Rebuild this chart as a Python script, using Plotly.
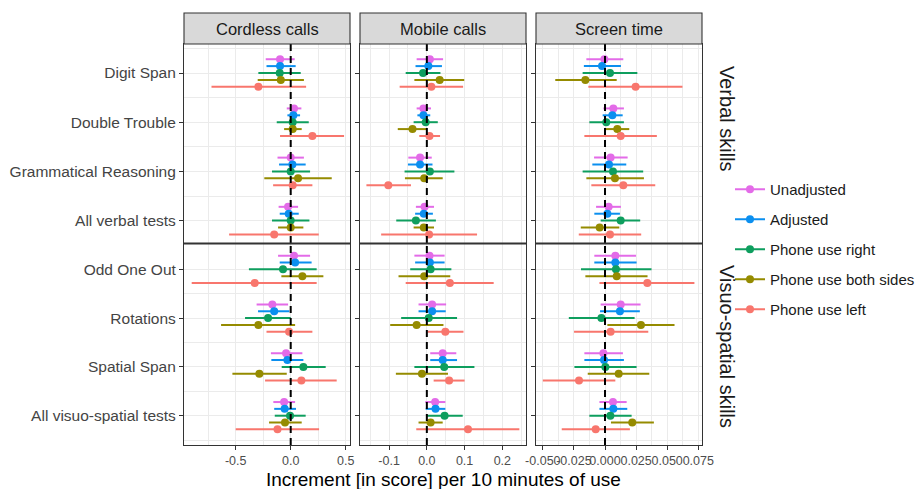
import plotly.graph_objects as go

# ---------------- data ----------------
exposures = ["Cordless calls", "Mobile calls", "Screen time"]
skill_domains = ["Verbal skills", "Visuo-spatial skills"]
verbal_tests = ["Digit Span", "Double Trouble", "Grammatical Reasoning", "All verbal tests"]
visuo_tests = ["Odd One Out", "Rotations", "Spatial Span", "All visuo-spatial tests"]
series_names = ["Unadjusted", "Adjusted", "Phone use right", "Phone use both sides", "Phone use left"]
series_colors = ["#E36BE8", "#0B8FEF", "#0E9E5E", "#958B00", "#F8766D"]

# rows = series (order above); columns = DS, DT, GR, AllVerbal, OOO, Rot, SS, AllVisuo
cordless_est = [
    [-0.097, 0.030, 0.000, -0.024, 0.030, -0.167, -0.042, -0.060],
    [-0.097, 0.024, 0.015, -0.018, 0.040, -0.150, -0.030, -0.055],
    [-0.100, 0.018, 0.000, 0.000, -0.070, -0.206, 0.115, -0.006],
    [-0.090, 0.018, 0.067, 0.000, 0.106, -0.294, -0.285, -0.052],
    [-0.294, 0.197, 0.018, -0.150, -0.327, -0.015, 0.097, -0.120],
]
cordless_lo = [
    [-0.227, -0.036, -0.120, -0.110, -0.115, -0.310, -0.180, -0.158],
    [-0.220, -0.030, -0.106, -0.100, -0.100, -0.297, -0.176, -0.150],
    [-0.294, -0.127, -0.170, -0.170, -0.380, -0.415, -0.082, -0.145],
    [-0.300, -0.060, -0.240, -0.115, -0.085, -0.633, -0.530, -0.197],
    [-0.720, -0.097, -0.160, -0.560, -0.900, -0.220, -0.233, -0.500],
]
cordless_hi = [
    [0.036, 0.097, 0.120, 0.067, 0.176, -0.024, 0.106, 0.040],
    [0.045, 0.085, 0.136, 0.073, 0.190, -0.012, 0.115, 0.048],
    [0.091, 0.164, 0.176, 0.170, 0.236, 0.000, 0.318, 0.136],
    [0.120, 0.100, 0.373, 0.115, 0.297, 0.040, -0.036, 0.100],
    [0.140, 0.485, 0.197, 0.255, 0.236, 0.197, 0.418, 0.258],
]

mobile_est = [
    [0.008, -0.009, -0.018, -0.006, 0.007, 0.014, 0.042, 0.022],
    [0.004, -0.009, -0.018, -0.008, 0.008, 0.014, 0.042, 0.023],
    [-0.010, -0.003, 0.008, -0.029, 0.010, 0.005, 0.046, 0.047],
    [0.034, -0.038, -0.007, -0.008, -0.007, -0.027, -0.013, 0.010],
    [0.012, 0.007, -0.102, 0.006, 0.061, 0.049, 0.059, 0.109],
]
mobile_lo = [
    [-0.027, -0.027, -0.049, -0.029, -0.033, -0.022, 0.009, -0.004],
    [-0.030, -0.025, -0.050, -0.031, -0.031, -0.022, 0.009, -0.003],
    [-0.056, -0.035, -0.059, -0.081, -0.044, -0.068, -0.033, 0.000],
    [-0.033, -0.077, -0.058, -0.035, -0.075, -0.097, -0.082, -0.022],
    [-0.072, -0.020, -0.160, -0.121, -0.056, 0.002, 0.018, -0.028],
]
mobile_hi = [
    [0.043, 0.011, 0.013, 0.019, 0.047, 0.051, 0.078, 0.049],
    [0.040, 0.009, 0.015, 0.016, 0.047, 0.050, 0.080, 0.049],
    [0.036, 0.029, 0.073, 0.024, 0.065, 0.080, 0.126, 0.095],
    [0.099, 0.000, 0.042, 0.019, 0.062, 0.044, 0.056, 0.042],
    [0.096, 0.035, -0.042, 0.133, 0.177, 0.097, 0.100, 0.245],
]

screen_est = [
    [-0.0005, 0.0067, 0.0045, 0.0029, 0.0083, 0.0126, -0.0013, 0.0064],
    [-0.0024, 0.0059, 0.0032, 0.0019, 0.0083, 0.0120, -0.0008, 0.0067],
    [0.0040, 0.0010, 0.0064, 0.0126, 0.0088, -0.0029, 0.0003, 0.0043],
    [-0.0158, 0.0099, 0.0080, -0.0043, 0.0094, 0.0289, 0.0110, 0.0219],
    [0.0246, 0.0126, 0.0147, 0.0040, 0.0340, 0.0045, -0.0209, -0.0075],
]
screen_lo = [
    [-0.0150, -0.0013, -0.0088, -0.0072, -0.0086, -0.0035, -0.0166, -0.0045],
    [-0.0170, -0.0019, -0.0102, -0.0086, -0.0086, -0.0040, -0.0166, -0.0045],
    [-0.0180, -0.0126, -0.0180, -0.0035, -0.0193, -0.0291, -0.0246, -0.0126],
    [-0.0400, 0.0008, -0.0150, -0.0195, -0.0158, 0.0019, -0.0139, 0.0048],
    [-0.0134, -0.0166, -0.0110, -0.0211, -0.0045, -0.0249, -0.0500, -0.0348],
]
screen_hi = [
    [0.0147, 0.0152, 0.0182, 0.0128, 0.0249, 0.0286, 0.0144, 0.0174],
    [0.0128, 0.0142, 0.0171, 0.0120, 0.0254, 0.0280, 0.0152, 0.0179],
    [0.0260, 0.0152, 0.0307, 0.0283, 0.0374, 0.0238, 0.0254, 0.0214],
    [0.0094, 0.0195, 0.0313, 0.0115, 0.0342, 0.0559, 0.0356, 0.0393],
    [0.0623, 0.0417, 0.0404, 0.0291, 0.0719, 0.0348, 0.0083, 0.0200],
]

cordless_ticks = [-0.5, 0.0, 0.5]
cordless_ticklabels = ["-0.5", "0.0", "0.5"]
mobile_ticks = [-0.1, 0.0, 0.1, 0.2]
mobile_ticklabels = ["-0.1", "0.0", "0.1", "0.2"]
screen_ticks = [-0.050, -0.025, 0.000, 0.025, 0.050, 0.075]
screen_ticklabels = ["-0.050", "-0.025", "0.000", "0.025", "0.050", "0.075"]

x_title = "Increment [in score] per 10 minutes of use"

# ---------------- layout constants ----------------
W, H = 920, 489
FONT = "Liberation Sans, Arial, Helvetica, sans-serif"
col_px = [(184, 350), (360, 526), (536, 702)]
row_px = [(44, 243), (244, 445)]
row_first_px = [73.0, 269.3]
row_step_px = [49.2, 48.8]
x_ranges = [[-0.970, 0.539], [-0.177, 0.2626], [-0.0555, 0.0780]]
dodge = 0.14

panel_data = [
    (cordless_est, cordless_lo, cordless_hi, cordless_ticks, cordless_ticklabels),
    (mobile_est, mobile_lo, mobile_hi, mobile_ticks, mobile_ticklabels),
    (screen_est, screen_lo, screen_hi, screen_ticks, screen_ticklabels),
]
row_tests = [verbal_tests, visuo_tests]


def minor_vals(ticks):
    step = ticks[1] - ticks[0]
    return ([ticks[0] - step / 2] + [(a + b) / 2 for a, b in zip(ticks[:-1], ticks[1:])]
            + [ticks[-1] + step / 2])


fig = go.Figure()
layout = dict(
    width=W, height=H, autosize=False,
    margin=dict(l=0, r=0, t=0, b=0, pad=0),
    paper_bgcolor="white", plot_bgcolor="white",
    font=dict(family=FONT, color="#1A1A1A"),
    showlegend=True,
    hovermode=False,
)
shapes = []
annotations = []

for c in range(3):
    est, lo, hi, ticks, ticklabels = panel_data[c]
    for r in range(2):
        p = r * 3 + c
        xa = "x" if p == 0 else f"x{p + 1}"
        ya = "y" if p == 0 else f"y{p + 1}"
        for k, name in enumerate(series_names):
            e = est[k][r * 4:(r + 1) * 4]
            l = lo[k][r * 4:(r + 1) * 4]
            h = hi[k][r * 4:(r + 1) * 4]
            yy = [i + (k - 2) * dodge for i in range(4)]
            fig.add_trace(go.Scatter(
                x=e, y=yy, mode="markers",
                marker=dict(size=8, color=series_colors[k], line=dict(width=0)),
                error_x=dict(type="data", symmetric=False,
                             array=[b - a for a, b in zip(e, h)],
                             arrayminus=[a - b for a, b in zip(e, l)],
                             thickness=2, width=0, color=series_colors[k]),
                xaxis=xa, yaxis=ya, showlegend=False, hoverinfo="skip",
                legendgroup=name, name=name,
            ))
        x0, x1 = col_px[c]
        y0, y1 = row_px[r]
        top = (y0 - row_first_px[r]) / row_step_px[r]
        bot = (y1 - row_first_px[r]) / row_step_px[r]
        xkey = "xaxis" if p == 0 else f"xaxis{p + 1}"
        ykey = "yaxis" if p == 0 else f"yaxis{p + 1}"
        layout[xkey] = dict(
            domain=[x0 / W, x1 / W], range=x_ranges[c], anchor=ya, autorange=False,
            showgrid=True, gridcolor="#EBEBEB", gridwidth=1.3, zeroline=False,
            showline=True, mirror=True, linecolor="#333333", linewidth=1.1,
            tickmode="array", tickvals=ticks, ticktext=ticklabels, tickangle=0,
            showticklabels=(r == 1), ticks="outside" if r == 1 else "",
            ticklen=4, tickwidth=1, tickcolor="#333333",
            tickfont=dict(size=12.5, color="#4D4D4D", family=FONT),
            minor=dict(tickmode="array", tickvals=minor_vals(ticks), showgrid=True,
                       gridcolor="#EBEBEB", gridwidth=0.6, ticks=""),
            fixedrange=True, automargin=False,
        )
        layout[ykey] = dict(
            domain=[1 - y1 / H, 1 - y0 / H], range=[bot, top], anchor=xa, autorange=False,
            showgrid=True, gridcolor="#EBEBEB", gridwidth=1.3, zeroline=False,
            showline=True, mirror=True, linecolor="#333333", linewidth=1.1,
            tickmode="array", tickvals=[0, 1, 2, 3], ticktext=row_tests[r],
            showticklabels=(c == 0), ticks="outside", ticklen=4, tickwidth=1,
            tickcolor="#333333",
            tickfont=dict(size=15.5, color="#444444", family=FONT),
            minor=dict(tickmode="array", tickvals=[-0.5, 0.5, 1.5, 2.5, 3.5], showgrid=True,
                       gridcolor="#EBEBEB", gridwidth=0.6, ticks=""),
            fixedrange=True, automargin=False,
        )
        # dashed zero reference line
        shapes.append(dict(type="line", xref=xa, yref="paper", x0=0, x1=0,
                           y0=1 - y1 / H, y1=1 - y0 / H,
                           line=dict(color="black", width=2, dash="7px,5px"), layer="above"))

    # heavier border where the two facet rows meet
    x0, x1 = col_px[c]
    shapes.append(dict(type="line", xref="paper", yref="paper",
                       x0=x0 / W, x1=x1 / W, y0=1 - 243.5 / H, y1=1 - 243.5 / H,
                       line=dict(color="#333333", width=2), layer="above"))

# strips on top
for c, label in enumerate(exposures):
    x0, x1 = col_px[c]
    shapes.append(dict(type="rect", xref="paper", yref="paper",
                       x0=x0 / W, x1=x1 / W, y0=1 - 44 / H, y1=1 - 13 / H,
                       fillcolor="#D9D9D9", line=dict(color="#333333", width=1.1), layer="above"))
    annotations.append(dict(text=label, xref="paper", yref="paper",
                            x=(x0 + x1) / 2 / W, y=1 - 28.5 / H, showarrow=False,
                            xanchor="center", yanchor="middle",
                            font=dict(size=16.5, color="#1A1A1A", family=FONT)))

# row labels on the right
row_label_y = [119, 346]
for r, label in enumerate(skill_domains):
    annotations.append(dict(text=label, xref="paper", yref="paper",
                            x=727 / W, y=1 - row_label_y[r] / H, showarrow=False,
                            textangle=90, xanchor="center", yanchor="middle",
                            font=dict(size=20, color="#1A1A1A", family=FONT)))

# x axis title
annotations.append(dict(text=x_title, xref="paper", yref="paper",
                        x=443 / W, y=1 - 479 / H, showarrow=False,
                        xanchor="center", yanchor="middle",
                        font=dict(size=19, color="black", family=FONT)))

# legend entries
for k, name in enumerate(series_names):
    fig.add_trace(go.Scatter(
        x=[None], y=[None], mode="lines+markers", name=name, legendgroup=name,
        line=dict(color=series_colors[k], width=2),
        marker=dict(size=8, color=series_colors[k]),
        showlegend=True, hoverinfo="skip",
    ))

layout["legend"] = dict(
    x=730 / W, xanchor="left", y=1 - 173 / H, yanchor="top",
    font=dict(size=15, color="#1A1A1A", family=FONT),
    tracegroupgap=7.5, itemwidth=30, bgcolor="rgba(0,0,0,0)",
    traceorder="grouped", borderwidth=0,
)
layout["shapes"] = shapes
layout["annotations"] = annotations
fig.update_layout(**layout)

fig.write_html(
    "out.html",
    config={"displayModeBar": False, "responsive": False},
    post_script="document.body.style.margin='0';document.body.style.overflow='hidden';",
)
